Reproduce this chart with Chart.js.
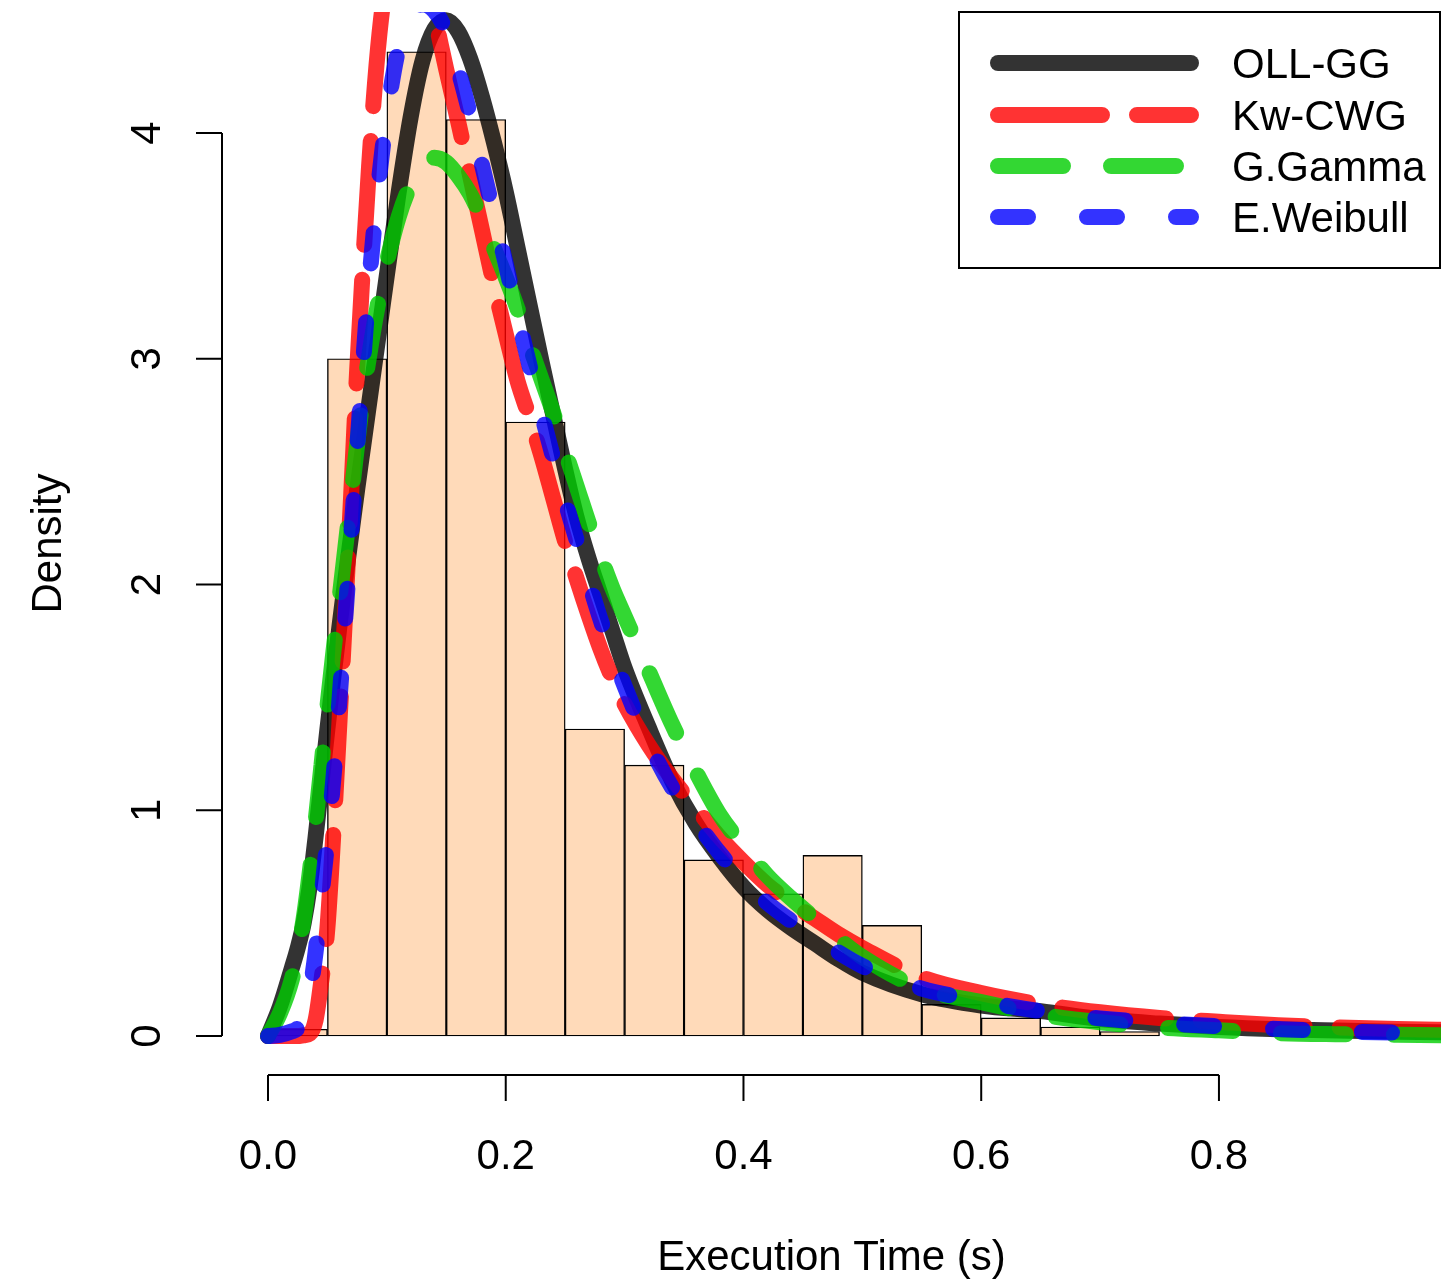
<!DOCTYPE html>
<html>
<head>
<meta charset="utf-8">
<script src="https://cdn.jsdelivr.net/npm/chart.js@4.4.1/dist/chart.umd.min.js"></script>
<style>
  html, body { margin: 0; padding: 0; background: #ffffff; }
  #wrap { width: 1441px; height: 1282px; }
</style>
</head>
<body>
<div id="wrap"><canvas id="c" width="1441" height="1282"></canvas></div>
<script>
// ---------------- data ----------------
const histBreaks  = [0.00, 0.05, 0.10, 0.15, 0.20, 0.25, 0.30, 0.35, 0.40, 0.45, 0.50, 0.55, 0.60, 0.65, 0.70, 0.75];
const histDensity = [0.03, 3.00, 4.36, 4.06, 2.72, 1.36, 1.20, 0.78, 0.63, 0.80, 0.49, 0.14, 0.08, 0.04, 0.02];

const xGrid = [0, 0.01, 0.02, 0.025, 0.03, 0.035, 0.04, 0.045, 0.05, 0.055, 0.06, 0.065, 0.07, 0.075, 0.08, 0.085, 0.09, 0.095,
  0.10, 0.11, 0.12, 0.13, 0.14, 0.15, 0.16, 0.17, 0.18, 0.19, 0.20, 0.21, 0.22, 0.23, 0.24, 0.25, 0.26, 0.27, 0.28, 0.29, 0.30,
  0.32, 0.34, 0.36, 0.38, 0.40, 0.42, 0.44, 0.46, 0.48, 0.50, 0.55, 0.60, 0.65, 0.70, 0.75, 0.80, 0.85, 0.90, 0.95, 1.00];

const ollGG = [0, 0.13, 0.30, 0.39, 0.50, 0.66, 0.88, 1.12, 1.36, 1.59, 1.81, 2.02, 2.22, 2.42, 2.61, 2.80, 2.99, 3.18,
  3.37, 3.74, 4.07, 4.32, 4.46, 4.50, 4.45, 4.33, 4.16, 3.96, 3.74, 3.49, 3.24, 2.99, 2.75, 2.51, 2.29, 2.11, 1.95, 1.79, 1.63,
  1.37, 1.13, 0.94, 0.79, 0.66, 0.56, 0.48, 0.41, 0.34, 0.28, 0.185, 0.135, 0.11, 0.075, 0.055, 0.04, 0.03, 0.024, 0.019, 0.015];

const kwCWG = [0, 0, 0, 0, 0.003, 0.01, 0.07, 0.25, 0.48, 0.90, 1.38, 1.88, 2.40, 2.95, 3.42, 3.85, 4.22, 4.50,
  4.68, 4.84, 4.85, 4.74, 4.52, 4.28, 4.05, 3.81, 3.57, 3.33, 3.11, 2.90, 2.74, 2.57, 2.38, 2.19, 2.02, 1.86, 1.71, 1.58, 1.47,
  1.29, 1.14, 1.01, 0.88, 0.77, 0.67, 0.59, 0.52, 0.45, 0.39, 0.26, 0.19, 0.14, 0.105, 0.08, 0.063, 0.048, 0.038, 0.031, 0.026];

const gGamma = [0, 0.10, 0.25, 0.37, 0.52, 0.72, 0.95, 1.20, 1.46, 1.70, 1.93, 2.16, 2.39, 2.62, 2.84, 3.01, 3.17, 3.31,
  3.43, 3.63, 3.77, 3.86, 3.89, 3.87, 3.81, 3.73, 3.62, 3.49, 3.36, 3.22, 3.06, 2.91, 2.76, 2.59, 2.43, 2.27, 2.12, 1.98, 1.86,
  1.62, 1.38, 1.17, 0.98, 0.84, 0.71, 0.61, 0.52, 0.43, 0.35, 0.21, 0.15, 0.095, 0.061, 0.038, 0.025, 0.013, 0.008, 0.005, 0.003];

const eWeibull = [0, 0.005, 0.02, 0.035, 0.08, 0.19, 0.37, 0.62, 0.87, 1.14, 1.48, 1.85, 2.22, 2.60, 2.98, 3.33, 3.62, 3.87,
  4.08, 4.38, 4.52, 4.57, 4.54, 4.45, 4.28, 4.08, 3.86, 3.64, 3.42, 3.19, 2.97, 2.76, 2.56, 2.37, 2.19, 2.01, 1.84, 1.69, 1.55,
  1.30, 1.10, 0.95, 0.81, 0.69, 0.59, 0.51, 0.44, 0.37, 0.31, 0.21, 0.155, 0.11, 0.078, 0.058, 0.043, 0.031, 0.021, 0.015, 0.011];

const seriesNames = ['OLL-GG', 'Kw-CWG', 'G.Gamma', 'E.Weibull'];
const xTicks = [0, 0.2, 0.4, 0.6, 0.8];
const xTickLabels = ['0.0', '0.2', '0.4', '0.6', '0.8'];
const yTicks = [0, 1, 2, 3, 4];
const yTickLabels = ['0', '1', '2', '3', '4'];
const xTitle = 'Execution Time (s)';
const yTitle = 'Density';

// ---------------- build datasets ----------------
const FONT = '"Liberation Sans", Arial, Helvetica, sans-serif';
const histData = histDensity.map((d, i) => ({ x: (histBreaks[i] + histBreaks[i + 1]) / 2, y: d }));
const toPts = arr => arr.map((v, i) => ({ x: xGrid[i], y: v }));

const lineStyle = [
  { color: 'rgba(0,0,0,0.8)',     dash: [] },
  { color: 'rgba(255,0,0,0.8)',   dash: [104, 35] },
  { color: 'rgba(0,205,0,0.8)',   dash: [65, 48] },
  { color: 'rgba(0,0,255,0.8)',   dash: [30, 59] }
];
const curveValues = [ollGG, kwCWG, gGamma, eWeibull];

const datasets = [{
  type: 'bar',
  label: 'hist',
  data: histData,
  backgroundColor: '#FFDAB9',
  borderColor: '#000000',
  borderWidth: 1.4,
  borderSkipped: false,
  barPercentage: 1,
  categoryPercentage: 1,
  order: 10
}];
curveValues.forEach((vals, i) => {
  datasets.push({
    type: 'line',
    label: seriesNames[i],
    data: toPts(vals),
    borderColor: lineStyle[i].color,
    borderDash: lineStyle[i].dash,
    borderWidth: 16,
    borderCapStyle: 'round',
    borderJoinStyle: 'round',
    cubicInterpolationMode: 'monotone',
    pointRadius: 0,
    fill: false,
    clip: 0,
    order: 4 - i
  });
});

// ---------------- R-style axes & legend ----------------
const rStyle = {
  id: 'rStyle',
  afterDraw(chart) {
    const { ctx, chartArea: a, scales } = chart;
    const xs = scales.x, ys = scales.y;
    ctx.save();
    ctx.strokeStyle = '#000';
    ctx.fillStyle = '#000';
    ctx.lineWidth = 2;
    ctx.setLineDash([]);
    ctx.lineCap = 'butt';
    ctx.font = '42px ' + FONT;

    // x axis
    const yAx = a.bottom;
    ctx.beginPath();
    ctx.moveTo(xs.getPixelForValue(xTicks[0]), yAx);
    ctx.lineTo(xs.getPixelForValue(xTicks[xTicks.length - 1]), yAx);
    xTicks.forEach(v => {
      const px = xs.getPixelForValue(v);
      ctx.moveTo(px, yAx);
      ctx.lineTo(px, yAx + 26);
    });
    ctx.stroke();
    ctx.textAlign = 'center';
    ctx.textBaseline = 'alphabetic';
    xTicks.forEach((v, i) => ctx.fillText(xTickLabels[i], xs.getPixelForValue(v), 1169));
    ctx.fillText(xTitle, (a.left + a.right) / 2, 1270);

    // y axis
    const xAx = a.left;
    ctx.beginPath();
    ctx.moveTo(xAx, ys.getPixelForValue(yTicks[0]));
    ctx.lineTo(xAx, ys.getPixelForValue(yTicks[yTicks.length - 1]));
    yTicks.forEach(v => {
      const py = ys.getPixelForValue(v);
      ctx.moveTo(xAx, py);
      ctx.lineTo(xAx - 26, py);
    });
    ctx.stroke();
    yTicks.forEach((v, i) => {
      ctx.save();
      ctx.translate(160, ys.getPixelForValue(v));
      ctx.rotate(-Math.PI / 2);
      ctx.fillText(yTickLabels[i], 0, 0);
      ctx.restore();
    });
    ctx.save();
    ctx.translate(61, (a.top + a.bottom) / 2);
    ctx.rotate(-Math.PI / 2);
    ctx.fillText(yTitle, 0, 0);
    ctx.restore();

    // legend
    const bx = 959, by = 12, bw = 481, bh = 256;
    ctx.fillStyle = '#fff';
    ctx.fillRect(bx, by, bw, bh);
    ctx.strokeStyle = '#000';
    ctx.lineWidth = 2;
    ctx.strokeRect(bx, by, bw, bh);
    const rows = [63, 115, 166, 217];
    const lines = chart.data.datasets.filter(d => d.type === 'line');
    lines.forEach((d, i) => {
      ctx.beginPath();
      ctx.strokeStyle = d.borderColor;
      ctx.lineWidth = d.borderWidth;
      ctx.lineCap = 'round';
      ctx.setLineDash(d.borderDash);
      ctx.moveTo(998, rows[i]);
      ctx.lineTo(1191, rows[i]);
      ctx.stroke();
      ctx.setLineDash([]);
      ctx.fillStyle = '#000';
      ctx.textAlign = 'left';
      ctx.fillText(d.label, 1232, rows[i] + 15);
    });
    ctx.restore();
  }
};

new Chart(document.getElementById('c'), {
  type: 'line',
  data: { datasets },
  options: {
    responsive: false,
    devicePixelRatio: 1,
    animation: false,
    layout: { padding: { left: 222, top: 12, right: 0, bottom: 207 } },
    scales: {
      x: { type: 'linear', min: -0.0387, max: 0.9868, offset: false, display: false },
      y: { type: 'linear', min: -0.1728, max: 4.536, display: false }
    },
    plugins: { legend: { display: false }, tooltip: { enabled: false } },
    elements: { point: { radius: 0 } }
  },
  plugins: [rStyle]
});
</script>
</body>
</html>
